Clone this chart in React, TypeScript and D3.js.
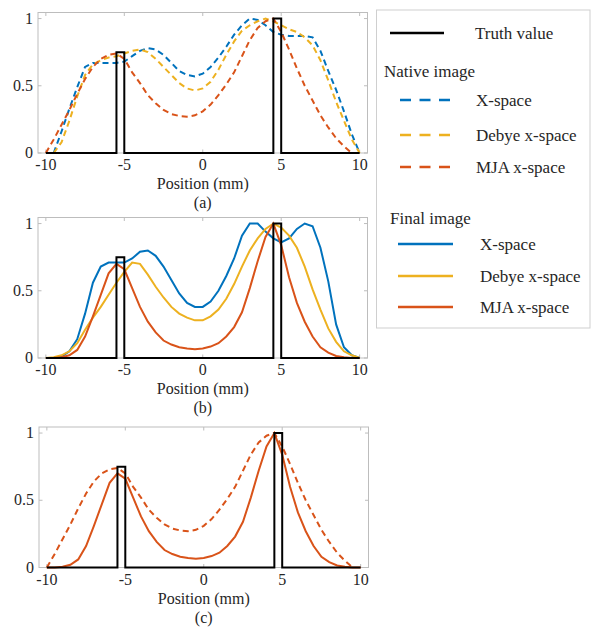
import React from "react";
import * as d3 from "d3";

const positions: number[] = d3.range(41).map((i) => -10 + i * 0.5);

const nativeXspace: (number | null)[] = [null, 0, 0.16, 0.33, 0.49, 0.64, 0.67, 0.67, 0.67, 0.67, 0.68, 0.72, 0.76, 0.78, 0.77, 0.73, 0.67, 0.61, 0.58, 0.57, 0.59, 0.64, 0.71, 0.79, 0.88, 0.95, 1.0, 0.99, 0.95, 0.9, 0.88, 0.87, 0.87, 0.87, 0.86, 0.76, 0.61, 0.47, 0.31, 0.14, 0];
const nativeDebye: (number | null)[] = [null, 0, 0.08, 0.24, 0.42, 0.58, 0.66, 0.69, 0.71, 0.72, 0.74, 0.76, 0.77, 0.75, 0.7, 0.64, 0.58, 0.52, 0.48, 0.465, 0.48, 0.53, 0.62, 0.73, 0.83, 0.91, 0.95, 0.98, 1.0, 0.98, 0.95, 0.92, 0.9, 0.86, 0.8, 0.69, 0.54, 0.38, 0.24, 0.1, 0];
const nativeMJA: (number | null)[] = [0, 0.1, 0.21, 0.32, 0.44, 0.55, 0.64, 0.7, 0.73, 0.74, 0.7, 0.6, 0.52, 0.43, 0.37, 0.32, 0.29, 0.275, 0.27, 0.28, 0.31, 0.36, 0.43, 0.51, 0.6, 0.72, 0.84, 0.93, 0.98, 1.0, 0.9, 0.77, 0.63, 0.5, 0.39, 0.28, 0.19, 0.11, 0.05, 0, null];

const finalXspace: number[] = [0, 0, 0.01, 0.05, 0.14, 0.33, 0.56, 0.68, 0.71, 0.71, 0.71, 0.74, 0.79, 0.8, 0.76, 0.68, 0.58, 0.48, 0.41, 0.38, 0.38, 0.42, 0.5, 0.61, 0.74, 0.91, 1.0, 1.0, 0.94, 0.89, 0.86, 0.89, 0.96, 1.0, 0.98, 0.82, 0.57, 0.25, 0.08, 0.02, 0];
const finalDebye: number[] = [0, 0.005, 0.02, 0.05, 0.11, 0.21, 0.3, 0.38, 0.47, 0.56, 0.64, 0.71, 0.7, 0.62, 0.53, 0.45, 0.38, 0.33, 0.3, 0.28, 0.28, 0.31, 0.36, 0.44, 0.55, 0.68, 0.8, 0.89, 0.96, 1.0, 0.97, 0.91, 0.82, 0.68, 0.51, 0.36, 0.22, 0.12, 0.05, 0.02, 0];
const finalMJA: number[] = [0, 0, 0.005, 0.02, 0.06, 0.16, 0.31, 0.47, 0.63, 0.7, 0.66, 0.52, 0.38, 0.27, 0.19, 0.13, 0.1, 0.08, 0.07, 0.065, 0.07, 0.085, 0.11, 0.16, 0.23, 0.34, 0.52, 0.72, 0.9, 1.0, 0.84, 0.6, 0.41, 0.27, 0.16, 0.08, 0.04, 0.015, 0.005, 0, 0];

const truthX: number[] = [-10, -5.5, -5.5, -5, -5, 4.5, 4.5, 5, 5, 10];
const truthY: number[] = [0, 0, 0.75, 0.75, 0, 0, 1, 1, 0, 0];

const xTicks: number[] = [-10, -5, 0, 5, 10];
const yTicks: number[] = [0, 0.5, 1];
const yTickLabels: string[] = ["0", "0.5", "1"];

const BLUE = "#0072BD";
const YELLOW = "#EDB120";
const RED = "#D95319";
const FONT = '"Liberation Serif", "Times New Roman", "DejaVu Serif", serif';
const textStyle = { fontFamily: FONT };

type Series = { values: (number | null)[]; color: string; dashed: boolean };

const panels: { top: number; left: number; label: string; series: Series[] }[] = [
  {
    top: 12.5,
    left: 38,
    label: "(a)",
    series: [
      { values: nativeXspace, color: BLUE, dashed: true },
      { values: nativeDebye, color: YELLOW, dashed: true },
      { values: nativeMJA, color: RED, dashed: true },
    ],
  },
  {
    top: 217.5,
    left: 38,
    label: "(b)",
    series: [
      { values: finalXspace, color: BLUE, dashed: false },
      { values: finalDebye, color: YELLOW, dashed: false },
      { values: finalMJA, color: RED, dashed: false },
    ],
  },
  {
    top: 427,
    left: 39,
    label: "(c)",
    series: [
      { values: nativeMJA, color: RED, dashed: true },
      { values: finalMJA, color: RED, dashed: false },
    ],
  },
];

const W = 329.5;
const H = 140.5;

function Panel({ top, left, label, series }: { top: number; left: number; label: string; series: Series[] }) {
  const x = d3.scaleLinear().domain([-10.5, 10.5]).range([left, left + W]);
  const y = d3.scaleLinear().domain([0, 1.045]).range([top + H, top]);
  const line = d3
    .line<[number, number | null]>()
    .defined((d) => d[1] !== null)
    .x((d) => x(d[0]))
    .y((d) => y(d[1] as number));
  const truthLine = d3
    .line<[number, number]>()
    .x((d) => x(d[0]))
    .y((d) => y(d[1]));
  const bottom = top + H;
  const tick = 3.5;
  return (
    <g>
      <rect x={left} y={top} width={W} height={H} fill="white" stroke="#bdbdbd" strokeWidth={1} />
      {xTicks.map((t) => (
        <g key={"xt" + t}>
          <line x1={x(t)} x2={x(t)} y1={bottom} y2={bottom - tick} stroke="#bdbdbd" />
          <line x1={x(t)} x2={x(t)} y1={top} y2={top + tick} stroke="#bdbdbd" />
          <text x={x(t)} y={bottom + 17} textAnchor="middle" fontSize={16} fill="#262626" style={textStyle}>
            {t}
          </text>
        </g>
      ))}
      {yTicks.map((t, i) => (
        <g key={"yt" + t}>
          <line x1={left} x2={left + tick} y1={y(t)} y2={y(t)} stroke="#bdbdbd" />
          <line x1={left + W} x2={left + W - tick} y1={y(t)} y2={y(t)} stroke="#bdbdbd" />
          <text x={left - 5} y={y(t) + 5} textAnchor="end" fontSize={16} fill="#262626" style={textStyle}>
            {yTickLabels[i]}
          </text>
        </g>
      ))}
      {series.map((s, i) => (
        <path
          key={i}
          d={line(positions.map((p, j) => [p, s.values[j]] as [number, number | null])) || ""}
          fill="none"
          stroke={s.color}
          strokeWidth={2}
          strokeDasharray={s.dashed ? "6,4" : undefined}
        />
      ))}
      <path
        d={truthLine(truthX.map((v, j) => [v, truthY[j]] as [number, number])) || ""}
        fill="none"
        stroke="#000"
        strokeWidth={2}
      />
      <text x={left + W / 2} y={bottom + 36} textAnchor="middle" fontSize={16} fill="#262626" style={textStyle}>
        Position (mm)
      </text>
      <text x={left + W / 2} y={bottom + 55} textAnchor="middle" fontSize={16} fill="#262626" style={textStyle}>
        {label}
      </text>
    </g>
  );
}

const legendGroups: { title: string | null; titleX: number; titleY: number; items: { label: string; color: string; dashed: boolean; y: number; x1: number; x2: number; tx: number }[] }[] = [
  {
    title: null,
    titleX: 0,
    titleY: 0,
    items: [{ label: "Truth value", color: "#000", dashed: false, y: 33, x1: 390, x2: 444, tx: 475 }],
  },
  {
    title: "Native image",
    titleX: 384,
    titleY: 71,
    items: [
      { label: "X-space", color: BLUE, dashed: true, y: 100, x1: 400, x2: 450, tx: 476 },
      { label: "Debye x-space", color: YELLOW, dashed: true, y: 135, x1: 400, x2: 450, tx: 476 },
      { label: "MJA x-space", color: RED, dashed: true, y: 167, x1: 400, x2: 450, tx: 476 },
    ],
  },
  {
    title: "Final image",
    titleX: 390,
    titleY: 218,
    items: [
      { label: "X-space", color: BLUE, dashed: false, y: 244, x1: 398, x2: 453, tx: 480 },
      { label: "Debye x-space", color: YELLOW, dashed: false, y: 276, x1: 398, x2: 453, tx: 480 },
      { label: "MJA x-space", color: RED, dashed: false, y: 307, x1: 398, x2: 453, tx: 480 },
    ],
  },
];

export default function App() {
  return (
    <svg width={598} height={627} style={{ position: "absolute", left: 0, top: 0, background: "white" }}>
      <rect width={598} height={627} fill="white" />
      {panels.map((p) => (
        <Panel key={p.label} {...p} />
      ))}
      <rect x={376.5} y={10} width={213.5} height={318} fill="white" stroke="#cfcfcf" strokeWidth={1} />
      {legendGroups.map((g, gi) => (
        <g key={gi}>
          {g.title && (
            <text x={g.titleX} y={g.titleY + 6} fontSize={17} fill="#262626" style={textStyle}>
              {g.title}
            </text>
          )}
          {g.items.map((it) => (
            <g key={it.label + it.y}>
              <line
                x1={it.x1}
                x2={it.x2}
                y1={it.y}
                y2={it.y}
                stroke={it.color}
                strokeWidth={2.5}
                strokeDasharray={it.dashed ? "11,8.5" : undefined}
              />
              <text x={it.tx} y={it.y + 6} fontSize={17} fill="#262626" style={textStyle}>
                {it.label}
              </text>
            </g>
          ))}
        </g>
      ))}
    </svg>
  );
}
